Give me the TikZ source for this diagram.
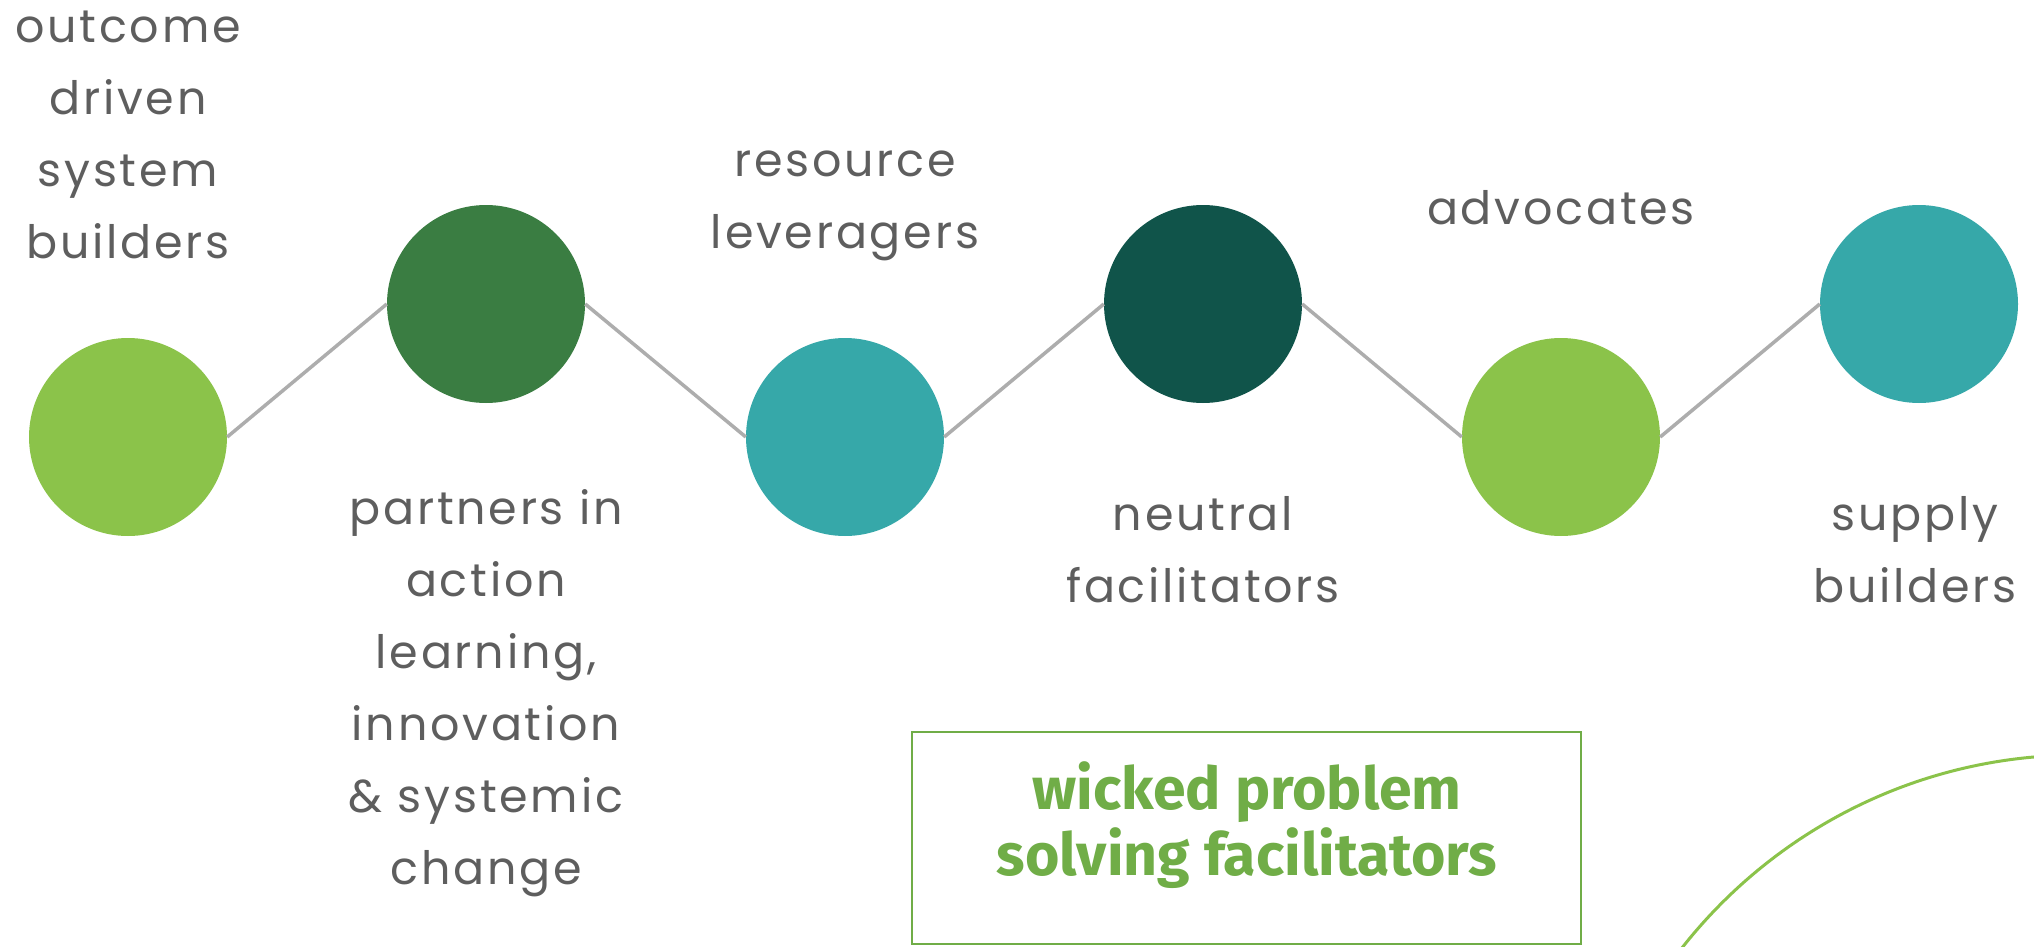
\documentclass[tikz,border=0pt]{standalone}
\usepackage{fontspec}
\setmainfont{Poppins}[LetterSpace=6]
\newfontfamily\boxfont{Fira Sans}
\definecolor{lightgreen}{HTML}{8BC34A}
\definecolor{midgreen}{HTML}{3A7D42}
\definecolor{tealc}{HTML}{36A8A9}
\definecolor{deepgreen}{HTML}{10544A}
\definecolor{linegray}{HTML}{ADADAD}
\definecolor{textgray}{HTML}{5E5E5E}
\definecolor{boxgreen}{HTML}{70AD47}
\begin{document}
\begin{tikzpicture}[x=1pt,y=-1pt,
  dot/.style={circle,minimum size=198pt,inner sep=0pt},
  lbl/.style={text=textgray,align=center,inner sep=0pt,font=\fontsize{46}{72}\selectfont},
  link/.style={draw=linegray,line width=3.5pt}]
\useasboundingbox (0,0) rectangle (2034,947);
% circles
\node[dot,fill=lightgreen] (c1) at (128,437) {};
\node[dot,fill=midgreen]   (c2) at (486,304) {};
\node[dot,fill=tealc]      (c3) at (845,437) {};
\node[dot,fill=deepgreen]  (c4) at (1203,304) {};
\node[dot,fill=lightgreen] (c5) at (1561,437) {};
\node[dot,fill=tealc]      (c6) at (1919,304) {};
% connectors
\draw[link] (c1.east) -- (c2.west);
\draw[link] (c2.east) -- (c3.west);
\draw[link] (c3.east) -- (c4.west);
\draw[link] (c4.east) -- (c5.west);
\draw[link] (c5.east) -- (c6.west);
% labels
\node[lbl] (t1) at (128,135) {outcome\\driven\\system\\builders};
\node[lbl] (t2) at (486,693) {partners in\\action\\learning,\\innovation\\\& systemic\\change};
\node[lbl] (t3) at (845,206) {resource\\leveragers};
\node[lbl] (t4) at (1203,550) {neutral\\facilitators};
\node[lbl] (t5) at (1561,208) {advocates};
\node[lbl] (t6) at (1915,550) {supply\\builders};
% box
\node[draw=boxgreen,line width=2pt,minimum width=669pt,minimum height=212pt,inner sep=0pt] (box) at (1246.5,838) {};
\node[text=boxgreen,align=center,inner sep=0pt,font=\boxfont\bfseries\fontsize{59}{66}\selectfont] (boxtext) at (1247,825) {wicked problem\\solving facilitators};
% arc
\begin{scope}
\clip (0,0) rectangle (2034,947);
\draw[lightgreen,line width=3pt] (2079,1260) circle[radius=505];
\end{scope}
\end{tikzpicture}
\end{document}
